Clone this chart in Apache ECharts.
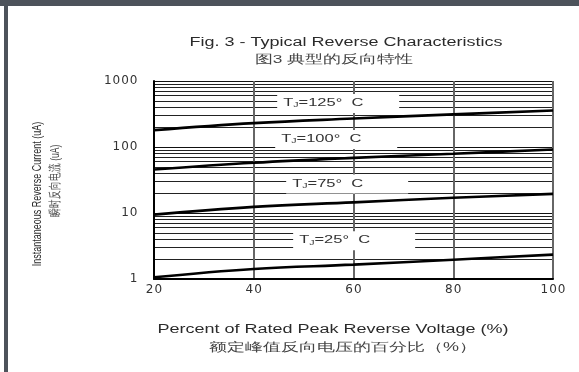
<!DOCTYPE html>
<html>
<head>
<meta charset="utf-8">
<script src="https://cdn.jsdelivr.net/npm/echarts@6/dist/echarts.min.js"></script>
<style>
  html, body { margin: 0; padding: 0; background: #fff; overflow: hidden; }
  #chart { width: 579px; height: 372px; }
</style>
</head>
<body>
<div id="chart"></div>
<script>
// Percent of rated peak reverse voltage (x) and reverse current in uA (y, log scale)
const voltagePct = [20, 40, 60, 80, 100];
const currentTj125 = [180, 230, 270, 312, 358];
const currentTj100 = [45.6, 57.6, 68.5, 78.9, 91.6];
const currentTj75 = [9.46, 12.4, 14.5, 17.0, 19.5];
const currentTj25 = [1.06, 1.42, 1.65, 1.96, 2.34];

const xTickValues = [20, 40, 60, 80, 100];
const yTickValues = [1, 10, 100, 1000];

// Curve captions: temperature text and the (x %, y uA) point at the left-middle of each caption box
const captionTemps = ['125', '100', '75', '25'];
const captionAnchorX = [44.7, 44.3, 46.5, 47.9];
const captionAnchorY = [465, 132, 27.9, 3.88];

const titleText = 'Fig. 3 - Typical Reverse Characteristics';
const titleTextCn = '图3 典型的反向特性';
const xNameText = 'Percent of Rated Peak Reverse Voltage (%)';
const xNameTextCn = '额定峰值反向电压的百分比（%）';
const yNameText = 'Instantaneous Reverse Current (uA)';
const yNameTextCn = '瞬时反向电流 (uA)';

const chart = echarts.init(document.getElementById('chart'), null, { renderer: 'canvas' });

const STRETCH = 1.5;
const digitLabel = v => String(v).split('').map(c => '{d|' + c + '}').join('');
const digitRich = { d: { fontFamily: 'DejaVu Sans', fontSize: 12, color: '#333', padding: [0, 0.5] } };

function curve(name, values) {
  return {
    name: name,
    type: 'line',
    data: voltagePct.map((x, i) => [x, values[i]]),
    smooth: 0.4,
    symbol: 'none',
    lineStyle: { color: '#000', width: 2.6 },
    z: 3
  };
}

chart.setOption({
  animation: false,
  backgroundColor: '#fff',
  grid: { left: 154, right: 26, top: 81, bottom: 93 },
  xAxis: {
    type: 'value',
    min: 20, max: 100, interval: 20,
    axisLine: { show: true, lineStyle: { color: '#000', width: 2 } },
    axisTick: { show: false },
    axisLabel: {
      margin: 5,
      formatter: v => xTickValues.includes(v) ? digitLabel(v) : '',
      rich: digitRich
    },
    splitLine: { show: true, lineStyle: { color: '#666', width: 2 } }
  },
  yAxis: {
    type: 'log',
    logBase: 10,
    min: 1, max: 1000,
    axisLine: { show: true, lineStyle: { color: '#000', width: 2 } },
    axisTick: { show: false },
    axisLabel: {
      margin: 16,
      formatter: v => yTickValues.includes(v) ? digitLabel(v) : '',
      rich: digitRich
    },
    splitLine: { show: true, lineStyle: { color: '#111', width: 1 } },
    minorTick: { show: false, splitNumber: 9 },
    minorSplitLine: { show: true, lineStyle: { color: '#222', width: 1 } }
  },
  series: [
    curve('TJ=125°C', currentTj125),
    curve('TJ=100°C', currentTj100),
    curve('TJ=75°C', currentTj75),
    curve('TJ=25°C', currentTj25)
  ]
});

// Caption boxes sit on top of the grid, placed through the chart's own coordinate system
const captionBoxes = [];
captionTemps.forEach((t, i) => {
  const p = chart.convertToPixel({ gridIndex: 0 }, [captionAnchorX[i], captionAnchorY[i]]);
  captionBoxes.push({
    type: 'rect',
    shape: { x: p[0], y: p[1] - 9, width: 122, height: 19 },
    style: { fill: '#fff' },
    z: 10
  });
  captionBoxes.push({
    type: 'text',
    x: p[0] + 6, y: p[1],
    scaleX: STRETCH,
    style: {
      text: '{m|T}{s|J}{m|=' + t + '°  C}',
      rich: {
        m: { fontFamily: 'Liberation Sans', fontSize: 11, fill: '#333' },
        s: { fontFamily: 'Liberation Sans', fontSize: 7, fill: '#333', padding: [5, 0, 0, 0] }
      },
      align: 'left', verticalAlign: 'middle',
      textAlign: 'left', textVerticalAlign: 'middle'
    },
    z: 11
  });
});

function stretchedText(text, x, y, size, color, opts) {
  return Object.assign({
    type: 'text',
    x: x, y: y,
    scaleX: STRETCH,
    style: {
      text: text,
      fontFamily: 'Liberation Sans',
      fontSize: size,
      fill: color,
      align: 'center', verticalAlign: 'middle',
      textAlign: 'center', textVerticalAlign: 'middle'
    },
    z: 12
  }, opts || {});
}

const frame = [
  { type: 'rect', shape: { x: 0, y: 0, width: 579, height: 6 }, style: { fill: '#4d535b' }, z: 20 },
  { type: 'rect', shape: { x: 4, y: 0, width: 4, height: 372 }, style: { fill: '#4d535b' }, z: 20 }
];

const texts = [
  stretchedText(titleText, 346, 43, 12, '#2b2b2b'),
  stretchedText(titleTextCn, 334, 60, 11.5, '#444'),
  stretchedText(xNameText, 333, 330, 12, '#2b2b2b'),
  stretchedText(xNameTextCn, 343, 348, 12, '#444'),
  stretchedText(yNameText, 37.5, 194, 9, '#2b2b2b', { scaleX: 1, scaleY: STRETCH, rotation: Math.PI / 2 }),
  stretchedText(yNameTextCn, 55, 181, 8.5, '#444', { scaleX: 1, scaleY: STRETCH, rotation: Math.PI / 2 })
];

chart.setOption({ graphic: { elements: frame.concat(captionBoxes, texts) } });
</script>
</body>
</html>
